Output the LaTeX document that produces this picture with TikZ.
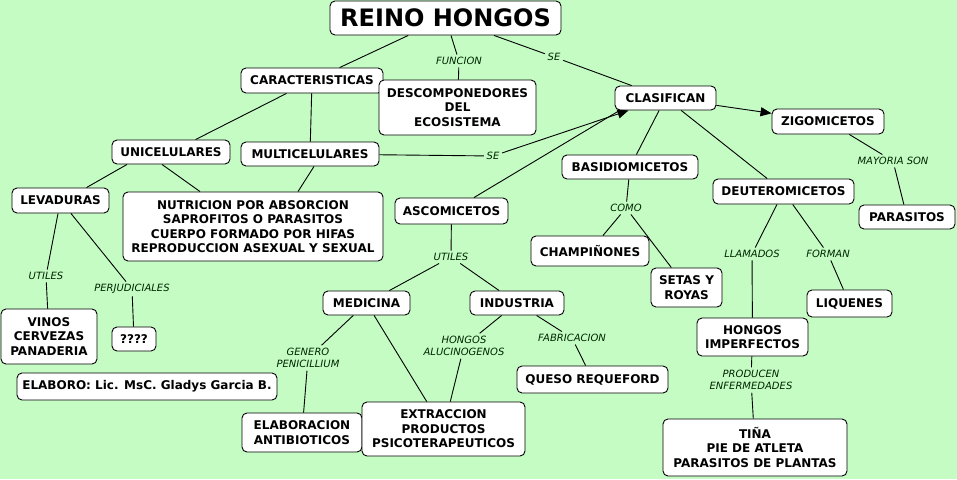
\documentclass[tikz,border=0pt]{standalone}
\usepackage{fontspec}
\setmainfont{DejaVu Sans}
\usetikzlibrary{arrows.meta}
\definecolor{bgc}{RGB}{196,252,196}
\tikzset{
  cbox/.style={draw=black, fill=white, line width=0.9pt, rounded corners=5pt, align=center, inner sep=1pt,
    font=\bfseries\fontsize{12}{14.5}\selectfont},
  lbl/.style={align=center, inner sep=2.5pt, font=\itshape\fontsize{10}{12.5}\selectfont, text=black!85!green},
  ln/.style={draw=black, line width=0.9pt},
  arr/.style={ln, -{Triangle[length=11pt,width=9pt]}}
}
\begin{document}
\begin{tikzpicture}[x=1pt,y=-1pt]
\useasboundingbox (0,0) rectangle (957,479);
\fill[bgc] (0,0) rectangle (957,479);
% concept boxes
\node[cbox, minimum width=231pt, minimum height=34pt, font=\bfseries\fontsize{24}{28}\selectfont] (reino) at (445.5,18) {REINO HONGOS};
\node[cbox, minimum width=142pt, minimum height=25pt] (caract) at (312,80.5) {CARACTERISTICAS};
\node[cbox, minimum width=157pt, minimum height=55pt] (descomp) at (457.5,107.5) {DESCOMPONEDORES\\DEL\\ECOSISTEMA};
\node[cbox, minimum width=101pt, minimum height=24pt] (clasif) at (665.5,98) {CLASIFICAN};
\node[cbox, minimum width=112pt, minimum height=25pt] (zigo) at (828,121.5) {ZIGOMICETOS};
\node[cbox, minimum width=118pt, minimum height=24pt] (unicel) at (171,152) {UNICELULARES};
\node[cbox, minimum width=138pt, minimum height=24pt] (multi) at (310,154) {MULTICELULARES};
\node[cbox, minimum width=97pt, minimum height=25pt] (lev) at (60.5,200.5) {LEVADURAS};
\node[cbox, minimum width=260pt, minimum height=69pt] (nutri) at (253,226.5) {NUTRICION POR ABSORCION\\SAPROFITOS O PARASITOS\\CUERPO FORMADO POR HIFAS\\REPRODUCCION ASEXUAL Y SEXUAL};
\node[cbox, minimum width=113pt, minimum height=26pt] (asco) at (451.5,211) {ASCOMICETOS};
\node[cbox, minimum width=136pt, minimum height=24pt] (basidio) at (630,167) {BASIDIOMICETOS};
\node[cbox, minimum width=141pt, minimum height=25pt] (deut) at (783.5,191.5) {DEUTEROMICETOS};
\node[cbox, minimum width=96pt, minimum height=24pt] (parasitos) at (907,217) {PARASITOS};
\node[cbox, minimum width=118pt, minimum height=30pt] (champ) at (590,251) {CHAMPIÑONES};
\node[cbox, minimum width=71pt, minimum height=39pt] (setas) at (686.5,287.5) {SETAS Y\\ROYAS};
\node[cbox, minimum width=85pt, minimum height=27pt] (liquenes) at (849.5,303.5) {LIQUENES};
\node[cbox, minimum width=111pt, minimum height=38pt] (himp) at (752.5,337) {HONGOS\\IMPERFECTOS};
\node[cbox, minimum width=184pt, minimum height=57pt] (tina) at (755,447.5) {TIÑA\\PIE DE ATLETA\\PARASITOS DE PLANTAS};
\node[cbox, minimum width=87pt, minimum height=24pt] (med) at (366.5,303) {MEDICINA};
\node[cbox, minimum width=94pt, minimum height=24pt] (ind) at (517,303) {INDUSTRIA};
\node[cbox, minimum width=151pt, minimum height=27pt] (queso) at (592.5,379.5) {QUESO REQUEFORD};
\node[cbox, minimum width=96pt, minimum height=55pt] (vinos) at (49,336.5) {VINOS\\CERVEZAS\\PANADERIA};
\node[cbox, minimum width=44pt, minimum height=24pt] (q4) at (134,339) {????};
\node[cbox, minimum width=260pt, minimum height=27pt] (elaboro) at (147,386.5) {ELABORO: Lic. MsC. Gladys Garcia B.};
\node[cbox, minimum width=120pt, minimum height=39pt] (elab) at (302,432.5) {ELABORACION\\ANTIBIOTICOS};
\node[cbox, minimum width=163pt, minimum height=54pt] (extr) at (443.5,429) {EXTRACCION\\PRODUCTOS\\PSICOTERAPEUTICOS};
% linking phrases
\node[lbl] (lFuncion) at (459,61) {FUNCION};
\node[lbl] (lSe1) at (554,57) {SE};
\node[lbl] (lSe2) at (493,156) {SE};
\node[lbl] (lMayoria) at (893,161) {MAYORIA SON};
\node[lbl] (lComo) at (626,208) {COMO};
\node[lbl] (lLlamados) at (752,254) {LLAMADOS};
\node[lbl] (lForman) at (828,254) {FORMAN};
\node[lbl] (lUtiles1) at (46,276) {UTILES};
\node[lbl] (lPerj) at (132,289) {PERJUDICIALES};
\node[lbl] (lGenero) at (308,358) {GENERO\\PENICILLIUM};
\node[lbl] (lUtiles2) at (451,257) {UTILES};
\node[lbl] (lHongos) at (464,346) {HONGOS\\ALUCINOGENOS};
\node[lbl] (lFabr) at (572,338) {FABRICACION};
\node[lbl] (lProd) at (751,380) {PRODUCEN\\ENFERMEDADES};
% connectors
\draw[ln] (reino) -- (caract);
\draw[ln] (reino) -- (lFuncion) -- (descomp);
\draw[ln] (reino) -- (lSe1) -- (clasif);
\draw[arr] (clasif) -- (zigo);
\draw[ln] (caract) -- (unicel);
\draw[ln] (caract) -- (multi);
\draw[arr] (multi) -- (lSe2) -- (clasif);
\draw[ln] (asco) -- ([xshift=5pt]clasif.south west);
\draw[ln] (clasif) -- (basidio);
\draw[ln] (clasif) -- (deut);
\draw[ln] (zigo) -- (lMayoria) -- (parasitos);
\draw[ln] (basidio) -- (lComo) -- (champ);
\draw[ln] (lComo) -- (setas);
\draw[ln] (deut) -- (lLlamados) -- (himp);
\draw[ln] (deut) -- (lForman) -- (liquenes);
\draw[ln] ([xshift=-44pt]unicel.south) -- ([xshift=26pt]lev.north);
\draw[ln] ([xshift=-9pt]unicel.south) -- ([xshift=-53pt]nutri.north);
\draw[ln] ([xshift=4pt]multi.south) -- ([xshift=45pt]nutri.north);
\draw[ln] (lev) -- (lUtiles1) -- (vinos);
\draw[ln] (lev) -- (lPerj) -- (q4);
\draw[ln] (asco) -- (lUtiles2) -- (med);
\draw[ln] (lUtiles2) -- (ind);
\draw[ln] (med) -- (lGenero) -- (elab);
\draw[ln] (med) -- (extr);
\draw[ln] (ind) -- (lHongos) -- (extr);
\draw[ln] (ind) -- (lFabr) -- (queso);
\draw[ln] (himp) -- (lProd) -- (tina);
\end{tikzpicture}
\end{document}
